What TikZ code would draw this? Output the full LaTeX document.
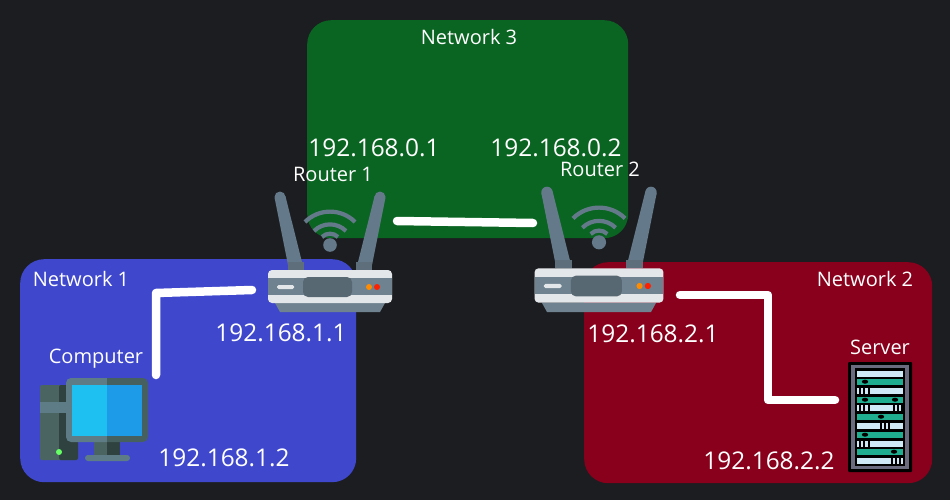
\documentclass[tikz,border=0pt]{standalone}
\usepackage{fontspec}
\setmainfont{Open Sans}
\usepackage{xcolor}
\usetikzlibrary{positioning}
\definecolor{bgdark}{HTML}{1C1D20}
\definecolor{netblue}{HTML}{3F48CC}
\definecolor{netgreen}{HTML}{0A6522}
\definecolor{netred}{HTML}{88001B}
\definecolor{antgrey}{HTML}{64798A}
\definecolor{bodylight}{HTML}{E4E7EA}
\definecolor{bodymid}{HTML}{6E828F}
\definecolor{servteal}{HTML}{1FAE8F}
\definecolor{servpale}{HTML}{CFE9F7}
\definecolor{servframe}{HTML}{6B6B80}
\definecolor{scrleft}{HTML}{1DC0F0}
\definecolor{scrright}{HTML}{1E9BE8}
\definecolor{frameleft}{HTML}{5D7C85}
\definecolor{frameright}{HTML}{46605F}
\definecolor{towerleft}{HTML}{4A6462}
\definecolor{towerright}{HTML}{2F4240}

\tikzset{
  routericon/.pic={
    \fill[antgrey] (-50,-90) circle (5.5);
    \fill[antgrey] (50,-90) circle (5.5);
    \fill[antgrey] (-55.4,-89) -- (-41,-17) -- (-26,-17) -- (-44.6,-91) -- cycle;
    \fill[antgrey] (55.4,-89) -- (41,-17) -- (26,-17) -- (44.6,-91) -- cycle;
    \fill[bodymid!85!black] (-42,-25) rectangle (-26,-17);
    \fill[bodymid!85!black] (26,-25) rectangle (42,-17);
    \fill[antgrey] (0,-42) circle (6.8);
    \draw[antgrey,line width=4.2pt] (-25,-65) arc (225:315:35.4);
    \draw[antgrey,line width=4.2pt] (-16,-56) arc (225:315:22.6);
    \draw[antgrey,line width=4.2pt] (-8,-50) arc (225:315:11.3);
    \fill[bodymid] (-55,16) -- (55,16) -- (50,25) -- (-50,25) -- cycle;
    \fill[bodylight,rounded corners=4pt] (-62,-17) rectangle (62,16);
    \fill[bodymid] (-62,-9) rectangle (62,8);
    \fill[bodymid!80!black,rounded corners=5pt] (-27,-10) rectangle (22,10);
    \fill[bodylight,rounded corners=1.5pt] (-53,-2) rectangle (-36,2);
    \fill[orange!90!yellow] (39,0) circle (3);
    \fill[red!75!orange] (47,0) circle (3);
  },
  computericon/.pic={
    \fill[towerleft,rounded corners=2pt] (0,6) rectangle (38,81);
    \fill[towerright,rounded corners=2pt] (19,6) rectangle (38,81);
    \fill[frameleft] (0,23) rectangle (26,34);
    \fill[green!60!white] (19,73) circle (3);
    \fill[towerleft] (54,63) rectangle (67,77);
    \fill[towerright] (67,63) rectangle (80,77);
    \fill[frameleft,rounded corners=3pt] (45,76) rectangle (90,82);
    \fill[frameleft,rounded corners=5pt] (26,-1) rectangle (72,63);
    \fill[frameright,rounded corners=5pt] (62,-1) rectangle (108,63);
    \fill[frameleft] (62,-1) rectangle (67,63);
    \fill[scrleft] (32,6) rectangle (67,57);
    \fill[scrright] (67,6) rectangle (102,57);
  },
  servericon/.pic={
    \fill[black,rounded corners=1pt] (0,0) rectangle (64,110);
    \fill[servframe] (3,3) rectangle (61,107);
    \fill[black] (7,6) rectangle (57,104);
    \foreach \y in {9,26,43,61,79,96}{
      \fill[servpale] (9,\y) rectangle (55,\y+5.5);
    }
    \foreach \y in {17,35,52,70,87}{
      \fill[servteal] (9,\y) rectangle (55,\y+5.5);
    }
    \foreach \y/\x in {17/17,35/17,35/47,52/33,70/17,87/46}{
      \fill[black] (\x,\y+2.7) ellipse (3.2 and 2);
    }
    \foreach \y/\x in {26/11,26/15,26/20,43/11,43/15,43/20,43/45,43/49,43/53,61/32,61/36,61/40,79/11,79/15,79/20,96/43,96/47,96/51}{
      \fill[black] (\x,\y) rectangle (\x+1.6,\y+5.5);
    }
  }
}

\begin{document}
\begin{tikzpicture}[x=1pt,y=-1pt,
  network/.style={rectangle,rounded corners=24pt,inner sep=0pt,anchor=north west},
  lab/.style={text=white,font=\fontsize{20}{20}\selectfont,inner sep=0pt},
  addr/.style={text=white,font=\fontsize{24.4}{25}\selectfont,inner sep=0pt},
  wire/.style={white,line width=8.5pt,line cap=round,line join=round}]
\fill[bgdark,use as bounding box] (0,0) rectangle (950,500);
\node[network,fill=netblue,minimum width=336pt,minimum height=223pt] (net1) at (20,259) {};
\node[network,fill=netred,minimum width=348pt,minimum height=221pt] (net2) at (584,262) {};
\node[network,fill=netgreen,minimum width=321pt,minimum height=218pt] (net3) at (307,20) {};

\node[lab] (lnet3) at (469,37) {Network 3};
\node[lab] (lnet1) at (81,279) {Network 1};
\node[lab] (lnet2) at (865,279) {Network 2};
\node[lab] (lrouter1) at (333,174) {Router 1};
\node[lab] (lrouter2) at (600,169) {Router 2};
\node[lab] (lcomputer) at (96,359) {Computer};
\node[lab] (lserver) at (880,347) {Server};

\node[addr] (a301) at (374,148) {192.168.0.1};
\node[addr] (a302) at (556,148) {192.168.0.2};
\node[addr] (a11) at (281,333) {192.168.1.1};
\node[addr] (a12) at (224,458) {192.168.1.2};
\node[addr] (a21) at (653,334) {192.168.2.1};
\node[addr] (a22) at (769,461) {192.168.2.2};

\pic at (330,287) {routericon};
\pic[scale=1.04] at (599,286) {routericon};
\pic at (40,379) {computericon};
\pic at (848,362) {servericon};

\coordinate (r1west) at (252,290);
\coordinate (r1east) at (397,221);
\coordinate (r2west) at (533,223);
\coordinate (r2east) at (680,295);
\coordinate (pc) at (156,375);
\coordinate (srv) at (835,400);

\draw[wire] (pc) -- (156,293) -- (r1west);
\draw[wire] (r1east) -- (r2west);
\draw[wire] (r2east) -- (768,295) -- (768,400) -- (srv);
\end{tikzpicture}
\end{document}
